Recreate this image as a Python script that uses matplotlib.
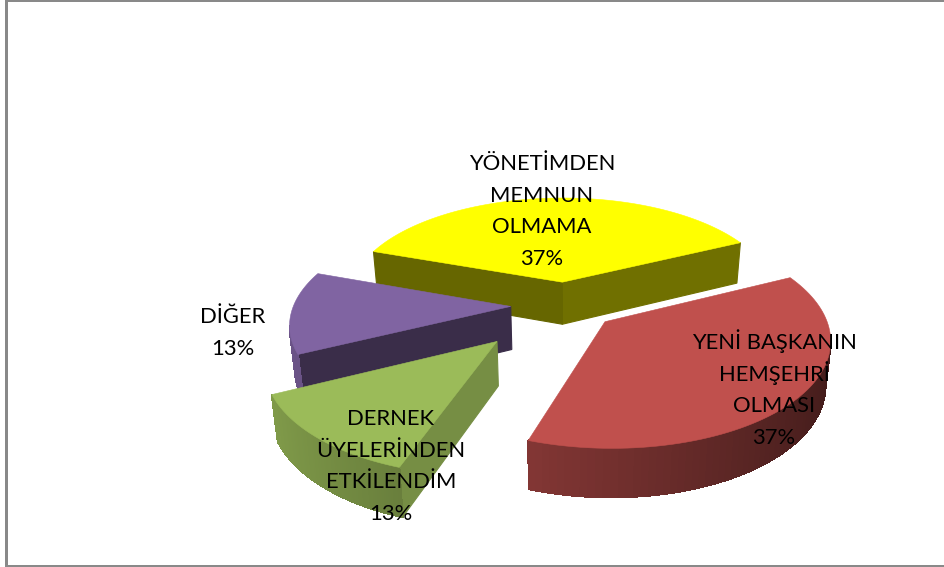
import numpy as np
import matplotlib
matplotlib.use("Agg")
import matplotlib.pyplot as plt
from matplotlib.patches import Polygon, Rectangle

plt.rcParams['font.family'] = ['Lato', 'DejaVu Sans']

# order is clockwise, starting from the yellow slice
labels = [["YÖNETİMDEN", "MEMNUN", "OLMAMA", "37%"],
          ["YENİ BAŞKANIN", "HEMŞEHRİ", "OLMASI", "37%"],
          ["DERNEK", "ÜYELERİNDEN", "ETKİLENDİM", "13%"],
          ["DİĞER", "13%"]]
values = [37.4, 37.4, 12.6, 12.6]
explode = [0.23, 0.24, 0.45, 0.25]
colors = ["#FFFF00", "#C0504D", "#9BBB59", "#8064A2"]
# shade of the two cut faces (start edge, end edge)
cut_shade = [(0.40, 0.44), (0.7, 0.7), (0.76, 0.76), (0.45, 0.45)]
label_x = [542, 774, 391, 233]
label_y = [170, 349, 425, 323]
draw_order = [0, 3, 1, 2]

# projection of the pie disk to pixels
cx, cy = 565, 305
rx, ry = 217, 102.7
persp = 0.1465
depth = 43
bottom_scale = 0.98
start = 160.5


def project(x, y, drop=0):
    s = 1 / (1 + persp * y)
    px, py = cx + rx * x * s, cy - ry * y * s
    if drop:
        # underside looks a little smaller than the top
        px = cx + (px - cx) * bottom_scale
        py = cy + (py - cy) * bottom_scale + drop * s
    return px, py


def shade(color, f):
    return tuple(c * f for c in matplotlib.colors.to_rgb(color))


fig = plt.figure(figsize=(9.45, 5.67), dpi=100)
ax = fig.add_axes([0, 0, 1, 1])
ax.set_xlim(0, 945)
ax.set_ylim(567, 0)
ax.axis("off")

# frame, no line on the right side
ax.add_patch(Rectangle((5, 0), 2.5, 567, color="#898989", lw=0))
ax.add_patch(Rectangle((5, 0), 940, 2, color="#898989", lw=0))
ax.add_patch(Rectangle((5, 565), 940, 2, color="#898989", lw=0))

spans = np.array(values) / sum(values) * 360
ends = start - np.cumsum(spans)
starts = ends + spans


def wall(x0, y0, x1, y1, col, smooth=True):
    pts = [project(x0, y0), project(x1, y1), project(x1, y1, depth), project(x0, y0, depth)]
    ax.add_patch(Polygon(pts, closed=True, fc=col, ec=col, lw=0.8, antialiased=smooth))


for i in draw_order:
    mid = np.radians((starts[i] + ends[i]) / 2)
    ox, oy = explode[i] * np.cos(mid), explode[i] * np.sin(mid)
    # counter clockwise along the arc
    th = np.radians(np.linspace(ends[i], starts[i], 80))
    xs = ox + np.cos(th)
    ys = oy + np.sin(th)
    apex = project(ox, oy)

    # a face is seen only if it runs left to right on screen
    if project(xs[0], ys[0])[0] > apex[0]:
        wall(ox, oy, xs[0], ys[0], shade(colors[i], cut_shade[i][1]))
    if project(xs[-1], ys[-1])[0] < apex[0]:
        wall(xs[-1], ys[-1], ox, oy, shade(colors[i], cut_shade[i][0]))

    # no antialiasing here, it leaves stripes between the gradient steps
    for j in range(len(th) - 1):
        if project(xs[j + 1], ys[j + 1])[0] > project(xs[j], ys[j])[0]:
            f = 0.6 - 0.25 * np.cos((th[j] + th[j + 1]) / 2)
            wall(xs[j], ys[j], xs[j + 1], ys[j + 1], shade(colors[i], f), smooth=False)

    top = [apex] + [project(x, y) for x, y in zip(xs, ys)]
    ax.add_patch(Polygon(top, closed=True, fc=colors[i], ec=colors[i], lw=0.4))

for lines, tx, ty in zip(labels, label_x, label_y):
    for k, line in enumerate(lines):
        ax.text(tx, ty + k * 31.7, line, ha="center", va="baseline", fontsize=15.8, color="black")

fig.savefig("out.png", dpi=100)
